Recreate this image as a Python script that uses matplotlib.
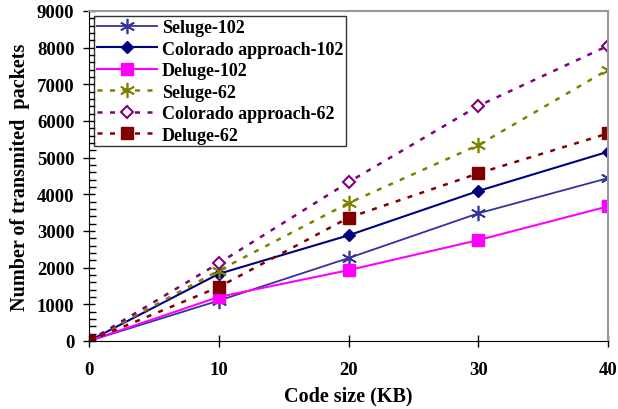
import matplotlib.pyplot as plt
from matplotlib.ticker import MultipleLocator

# data
code_size = [0, 10, 20, 30, 40]
seluge_102 = [0, 1100, 2260, 3480, 4440]
colorado_102 = [0, 1830, 2880, 4090, 5160]
deluge_102 = [0, 1200, 1930, 2750, 3670]
seluge_62 = [0, 1920, 3760, 5340, 7400]
colorado_62 = [0, 2120, 4330, 6410, 8050]
deluge_62 = [0, 1470, 3360, 4570, 5660]

plt.rcParams['font.family'] = 'Liberation Serif'
plt.rcParams['font.weight'] = 'bold'

fig = plt.figure(figsize=(6.18, 4.10), dpi=100)
ax = fig.add_axes([0.144, 0.166, 0.840, 0.805])

star = (6, 2, 0)
dash = (0, (2, 3))
ax.plot(code_size, seluge_102, color='#333399', lw=1.3, marker=star, ms=11, mew=1.2, label='Seluge-102')
ax.plot(code_size, colorado_102, color='#000080', lw=1.5, marker='D', ms=6, label='Colorado approach-102')
ax.plot(code_size, deluge_102, color='#ff00ff', lw=1.5, marker='s', ms=8, label='Deluge-102')
ax.plot(code_size, seluge_62, color='#808000', lw=1.8, ls=dash, marker=star, ms=11, mew=1.2, label='Seluge-62')
ax.plot(code_size, colorado_62, color='#800080', lw=1.8, ls=dash, marker='D', ms=6, mfc='white', mew=1.5, label='Colorado approach-62')
ax.plot(code_size, deluge_62, color='#800000', lw=1.8, ls=dash, marker='s', ms=8, label='Deluge-62')

ax.set_xlim(0, 40)
ax.set_ylim(0, 9000)
ax.xaxis.set_major_locator(MultipleLocator(10))
ax.yaxis.set_major_locator(MultipleLocator(1000))
ax.yaxis.set_minor_locator(MultipleLocator(200))
ax.tick_params(axis='both', which='major', direction='inout', length=9, width=1, labelsize=13.5, pad=6)
ax.tick_params(axis='x', which='major', pad=10)
ax.tick_params(axis='y', which='minor', direction='in', length=5, width=1)
for lab in ax.get_xticklabels() + ax.get_yticklabels():
    lab.set_fontweight('bold')

ax.spines['top'].set_color('#999999')
ax.spines['right'].set_color('#999999')
ax.spines['top'].set_linewidth(1.5)
ax.spines['right'].set_linewidth(1.5)

ax.set_xlabel('Code size (KB)', fontsize=14.5, fontweight='bold', labelpad=5)
ax.set_ylabel('Number of transmited  packets', fontsize=14.5, fontweight='bold', labelpad=5)

leg = ax.legend(loc='upper left', bbox_to_anchor=(0.0, 1.0), fancybox=False, edgecolor='black',
                prop={'weight': 'bold', 'size': 13}, handlelength=3.3, borderaxespad=0.3,
                labelspacing=0.25, handletextpad=0.3, borderpad=0.15)
leg.get_frame().set_linewidth(1.0)

fig.savefig('out.png', dpi=100)
